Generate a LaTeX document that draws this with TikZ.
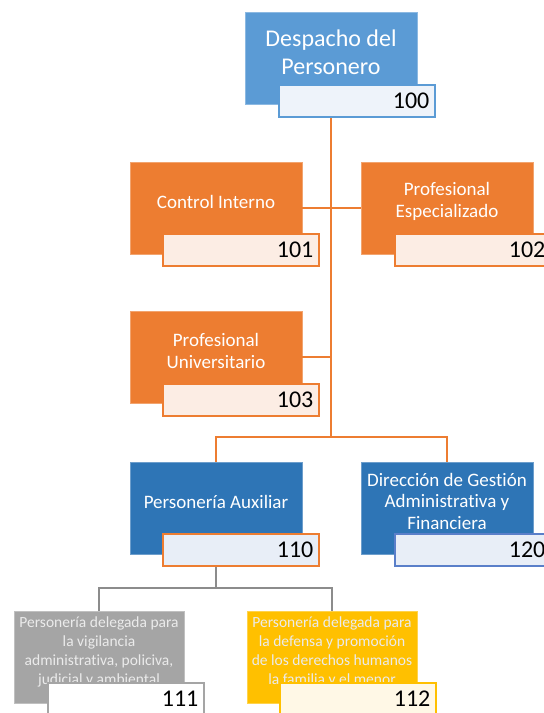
\documentclass[tikz,border=0pt]{standalone}
\usepackage{fontspec}
\setmainfont[Ligatures=NoCommon]{Carlito}
\definecolor{lblue}{HTML}{5B9BD5}
\definecolor{dblue}{HTML}{2E75B6}
\definecolor{orng}{HTML}{ED7D31}
\definecolor{gry}{HTML}{A5A5A5}
\definecolor{ylw}{HTML}{FFC000}
\definecolor{nblue}{HTML}{EEF3FA}
\definecolor{norng}{HTML}{FCEDE4}
\definecolor{ndblue}{HTML}{E8EEF7}
\definecolor{nylw}{HTML}{FFF8E6}
\definecolor{bdblue}{HTML}{5A7FC9}
\tikzset{
 box/.style={draw=#1!70!white, fill=#1, line width=0.6pt, minimum width=172pt, minimum height=92pt, inner sep=0pt},
 numbox/.style 2 args={draw=#1, fill=#2, line width=1.2pt, minimum width=156pt, minimum height=32pt, inner sep=0pt},
 boxtxt/.style={text=white, align=center, inner sep=0pt, font=\fontsize{19}{21.5}\selectfont},
 smalltxt/.style={text=white!92!black, align=center, inner sep=0pt, font=\fontsize{15.5}{19}\selectfont},
 numtxt/.style={text=black, anchor=east, inner sep=0pt, font=\fontsize{24}{26}\selectfont},
 oline/.style={draw=orng, line width=1.8pt},
 gline/.style={draw=gry!85!black, line width=1.8pt},
}
\begin{document}
\begin{tikzpicture}[x=1pt,y=-1pt]
\useasboundingbox (0,0) rectangle (544,713);
\clip (0,0) rectangle (544,713);
% coordinates
\coordinate (j1) at (331,437);
\coordinate (j2) at (216,588);
% boxes
\node[box=lblue] (p100) at (331,58) {};
\node[box=orng] (p101) at (216,208) {};
\node[box=orng] (p102) at (447,208) {};
\node[box=orng] (p103) at (216,357) {};
\node[box=dblue] (p110) at (216,508) {};
\node[box=dblue] (p120) at (447,508) {};
\node[box=gry, minimum width=170pt] (p111) at (99,657) {};
\node[box=ylw, minimum width=170pt] (p112) at (332,657) {};
% connectors
\draw[oline] (p100.south) -- (j1);
\draw[oline] (p101.east) -- (p102.west);
\draw[oline] (p103.east) -- (p103.east -| p100.south);
\draw[oline] (p110.north) |- (j1) -| (p120.north);
\draw[gline] (p110.south) -- (j2);
\draw[gline] (p111.north) |- (j2) -| (p112.north);
% texts
\node[boxtxt, font=\fontsize{24}{28}\selectfont] (t100) at (331,52) {Despacho del\\Personero};
\node[boxtxt] (t101) at (216,202) {Control Interno};
\node[boxtxt] (t102) at (447,201.5) {Profesional\\Especializado};
\node[boxtxt] (t103) at (216,351) {Profesional\\Universitario};
\node[boxtxt] (t110) at (216,502) {Personería Auxiliar};
\node[boxtxt] (t120) at (447,501) {Dirección de Gestión\\Administrativa y\\Financiera};
\node[smalltxt] (t111) at (99,652) {Personería delegada para\\la vigilancia\\administrativa, policiva,\\judicial y ambiental};
\node[smalltxt] (t112) at (332,652) {Personería delegada para\\la defensa y promoción\\de los derechos humanos\\la familia y el menor};
% number boxes
\node[numbox={lblue}{nblue}] (n100) at (357,101) {};
\node[numbox={orng}{norng}] (n101) at (241,250) {};
\node[numbox={orng}{norng}] (n102) at (473,250) {};
\node[numbox={orng}{norng}] (n103) at (241,400) {};
\node[numbox={orng}{ndblue}] (n110) at (241,550) {};
\node[numbox={bdblue}{ndblue}] (n120) at (473,550) {};
\node[numbox={gry}{white}] (n111) at (126,699) {};
\node[numbox={ylw}{nylw}] (n112) at (358,699) {};
% number texts
\node[numtxt] (x100) at ([xshift=-6pt]n100.east) {100};
\node[numtxt] (x101) at ([xshift=-6pt]n101.east) {101};
\node[numtxt] (x102) at ([xshift=-6pt]n102.east) {102};
\node[numtxt] (x103) at ([xshift=-6pt]n103.east) {103};
\node[numtxt] (x110) at ([xshift=-6pt]n110.east) {110};
\node[numtxt] (x120) at ([xshift=-6pt]n120.east) {120};
\node[numtxt] (x111) at ([xshift=-6pt]n111.east) {111};
\node[numtxt] (x112) at ([xshift=-6pt]n112.east) {112};
\end{tikzpicture}
\end{document}
